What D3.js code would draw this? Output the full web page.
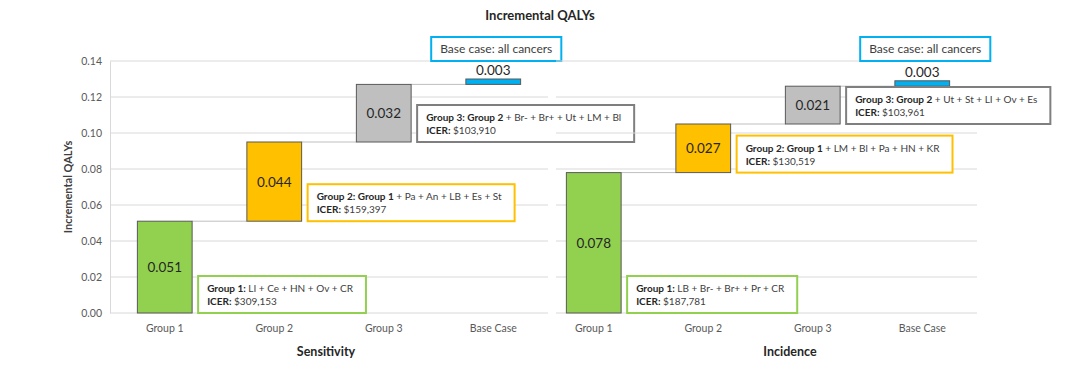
<!DOCTYPE html>
<html>
<head>
<meta charset="utf-8">
<script src="https://cdn.jsdelivr.net/npm/d3@7"></script>
<style>
  body { margin: 0; background: #fff; }
  text { font-family: Lato, "Open Sans", sans-serif; }
</style>
</head>
<body>
<svg id="chart" width="1080" height="373"></svg>
<script>
// data
const categories = ["Group 1", "Group 2", "Group 3", "Base Case"];
const sensitivityValues = [0.051, 0.044, 0.032, 0.003];
const incidenceValues = [0.078, 0.027, 0.021, 0.003];
const yTicks = [0, 0.02, 0.04, 0.06, 0.08, 0.10, 0.12, 0.14];
const barColors = ["#92D050", "#FFC000", "#BFBFBF", "#00B0F0"];

const sensitivityNotes = [
  { bold: "Group 1:", rest: " LI + Ce + HN + Ov + CR", icer: " $309,153" },
  { bold: "Group 2: Group 1", rest: " + Pa + An + LB + Es + St", icer: " $159,397" },
  { bold: "Group 3: Group 2", rest: " + Br- + Br+ + Ut + LM + Bl", icer: " $103,910" }
];
const incidenceNotes = [
  { bold: "Group 1:", rest: " LB + Br- + Br+ + Pr + CR", icer: " $187,781" },
  { bold: "Group 2: Group 1", rest: " + LM + Bl + Pa + HN + KR", icer: " $130,519" },
  { bold: "Group 3: Group 2", rest: " + Ut + St + LI + Ov + Es", icer: " $103,961" }
];
const baseNote = "Base case: all cancers";

const svg = d3.select("#chart");
svg.append("rect").attr("width", 1080).attr("height", 373).attr("fill", "#fff");

const y = d3.scaleLinear().domain([0, 0.14]).range([313, 61]);

svg.append("text")
  .attr("x", 540).attr("y", 20)
  .attr("text-anchor", "middle")
  .attr("font-weight", "bold").attr("font-size", 13)
  .attr("fill", "#262626")
  .text("Incremental QALYs");

// y axis (left panel only)
const yAxis = svg.append("g")
  .attr("transform", "translate(110,0)")
  .call(d3.axisLeft(y).tickValues(yTicks).tickFormat(d3.format(".2f")).tickSize(0).tickPadding(8));
yAxis.select(".domain").attr("stroke", "#d9d9d9");
yAxis.selectAll("text").attr("fill", "#595959").attr("font-size", 10.5)
  .style("font-family", "Lato, sans-serif");

svg.append("text")
  .attr("transform", "translate(72,187) rotate(-90)")
  .attr("text-anchor", "middle")
  .attr("font-weight", "bold").attr("font-size", 11)
  .attr("fill", "#404040")
  .text("Incremental QALYs");

const drawPanel = (values, notes, title, x0, x1, gridX0, titleX) => {
  const g = svg.append("g");
  const x = d3.scaleBand().domain(categories).range([x0, x1])
    .paddingInner(0.5).paddingOuter(0.25);
  const bw = x.bandwidth();

  g.selectAll("line.grid")
    .data(yTicks)
    .enter()
    .append("line")
    .attr("x1", gridX0).attr("x2", x1)
    .attr("y1", d => y(d)).attr("y2", d => y(d))
    .attr("stroke", "#d9d9d9");

  const starts = [];
  values.reduce((acc, v, i) => { starts[i] = acc; return acc + v; }, 0);

  // connectors between bars
  categories.slice(0, -1).forEach((c, i) => {
    g.append("line")
      .attr("x1", x(c) + bw).attr("x2", x(categories[i + 1]))
      .attr("y1", y(starts[i] + values[i])).attr("y2", y(starts[i] + values[i]))
      .attr("stroke", "#bfbfbf");
  });

  g.selectAll("rect.bar")
    .data(values)
    .enter()
    .append("rect")
    .attr("x", (d, i) => x(categories[i]))
    .attr("y", (d, i) => y(starts[i] + d))
    .attr("width", bw)
    .attr("height", (d, i) => y(starts[i]) - y(starts[i] + d))
    .attr("fill", (d, i) => barColors[i])
    .attr("stroke", "#595959");

  g.selectAll("text.val")
    .data(values)
    .enter()
    .append("text")
    .attr("x", (d, i) => x(categories[i]) + bw / 2)
    .attr("y", (d, i) => i < 3 ? y(starts[i] + d / 2) + 5 : y(starts[i] + d) - 4)
    .attr("text-anchor", "middle")
    .attr("font-size", 13.5)
    .attr("fill", "#262626")
    .text(d => d.toFixed(3));

  // category labels
  g.selectAll("text.cat")
    .data(categories)
    .enter()
    .append("text")
    .attr("x", d => x(d) + bw / 2)
    .attr("y", 332)
    .attr("text-anchor", "middle")
    .attr("font-size", 10.5)
    .attr("fill", "#595959")
    .text(d => d);

  g.append("text")
    .attr("x", titleX).attr("y", 356)
    .attr("text-anchor", "middle")
    .attr("font-weight", "bold").attr("font-size", 12.5)
    .attr("fill", "#262626")
    .text(title);

  // group annotation boxes
  notes.forEach((n, i) => {
    const bx = x(categories[i]) + bw + 6;
    const bottom = y(starts[i]);
    const top = bottom - 37;
    const box = g.append("rect")
      .attr("x", bx).attr("y", top).attr("height", 37)
      .attr("fill", "#fff")
      .attr("stroke", i === 2 ? "#7f7f7f" : barColors[i])
      .attr("stroke-width", 2);
    const t1 = g.append("text").attr("x", bx + 9).attr("y", top + 16)
      .attr("font-size", 10).attr("fill", "#404040");
    t1.append("tspan").attr("font-weight", "bold").attr("fill", "#262626").text(n.bold);
    t1.append("tspan").text(n.rest);
    const t2 = g.append("text").attr("x", bx + 9).attr("y", top + 29)
      .attr("font-size", 10).attr("fill", "#404040");
    t2.append("tspan").attr("font-weight", "bold").attr("fill", "#262626").text("ICER:");
    t2.append("tspan").text(n.icer);
    const w = Math.max(t1.node().getComputedTextLength(), t2.node().getComputedTextLength());
    box.attr("width", w + 22);
  });

  // base case label
  const cx = x(categories[3]) + bw / 2 + 3;
  const bt = g.append("text")
    .attr("x", cx).attr("y", 53)
    .attr("text-anchor", "middle")
    .attr("font-size", 12)
    .attr("fill", "#404040")
    .text(baseNote);
  const bl = bt.node().getComputedTextLength();
  g.insert("rect", "text:last-of-type")
    .attr("x", cx - bl / 2 - 9).attr("y", 37)
    .attr("width", bl + 18).attr("height", 24)
    .attr("fill", "#fff")
    .attr("stroke", "#00B0F0").attr("stroke-width", 2);
  bt.raise();
};

drawPanel(sensitivityValues, sensitivityNotes, "Sensitivity", 110, 548, 110, 326);
drawPanel(incidenceValues, incidenceNotes, "Incidence", 539, 977, 556, 790);
</script>
</body>
</html>
